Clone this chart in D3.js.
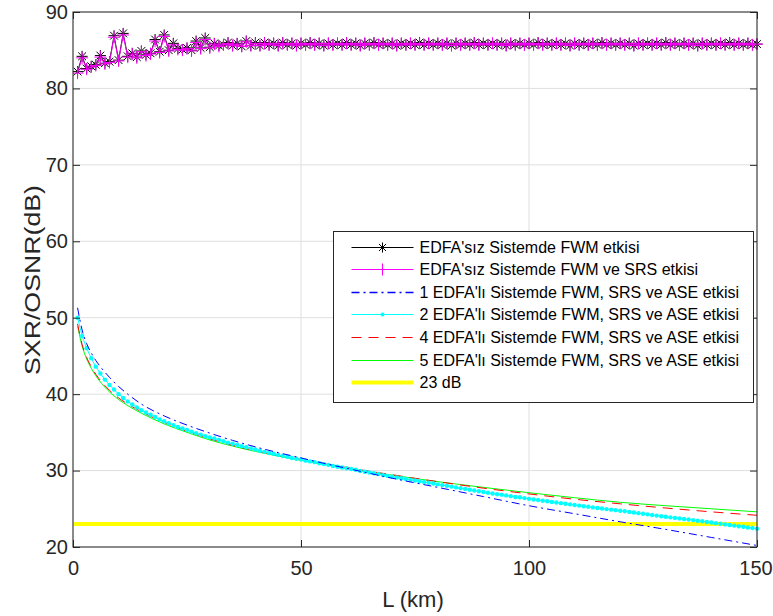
<!DOCTYPE html>
<html>
<head>
<meta charset="utf-8">
<script src="https://cdn.jsdelivr.net/npm/d3@7"></script>
<style>
  html, body { margin: 0; padding: 0; background: #fff; }
  svg { display: block; font-family: "Liberation Sans", Arial, Helvetica, sans-serif; }
</style>
</head>
<body>
<svg id="chart" width="773" height="616"></svg>
<script>
// Fibre length grid (km) for the densely sampled series
const lengthKm = d3.range(1, 151);

// SXR without EDFA, FWM only (dB)
const fwmOnly = [
  82.2, 84.2, 82.6, 82.9, 83.1, 84.3, 83.3, 83.5, 86.9, 83.7,
  87.2, 84.2, 84.6, 84.1, 84.9, 84.4, 84.6, 86.4, 84.8, 87.0,
  85.0, 85.9, 85.2, 85.1, 85.3, 85.0, 86.2, 85.3, 86.6, 85.4,
  85.9, 85.6, 85.7, 86.0, 85.6, 85.9, 85.5, 86.2, 85.6, 86.0,
  85.6, 86.0, 85.7, 85.9, 85.6, 86.0, 85.7, 85.9, 85.6, 85.9,
  85.7, 86.0, 85.7, 85.9, 85.6, 85.9, 85.7, 85.9, 85.7, 86.0,
  85.7, 85.9, 85.6, 85.9, 85.7, 86.0, 85.7, 85.9, 85.7, 85.9,
  85.6, 85.9, 85.7, 85.9, 85.7, 86.0, 85.7, 85.9, 85.7, 85.9,
  85.7, 85.9, 85.6, 85.9, 85.7, 85.9, 85.7, 86.0, 85.7, 85.9,
  85.7, 85.9, 85.7, 85.9, 85.6, 85.9, 85.7, 85.9, 85.7, 85.9,
  85.7, 86.0, 85.7, 85.9, 85.7, 85.9, 85.7, 85.9, 85.6, 85.9,
  85.7, 85.9, 85.7, 85.9, 85.7, 86.0, 85.7, 85.9, 85.7, 85.9,
  85.7, 85.9, 85.6, 85.9, 85.7, 85.9, 85.7, 85.9, 85.7, 86.0,
  85.7, 85.9, 85.7, 85.9, 85.7, 85.9, 85.6, 85.9, 85.7, 85.9,
  85.7, 85.9, 85.7, 86.0, 85.7, 85.9, 85.7, 85.9, 85.7, 85.8
];

// SXR without EDFA, FWM + SRS (dB)
const fwmSrs = [
  82.0, 84.0, 82.5, 82.8, 83.0, 84.1, 83.2, 83.4, 86.7, 83.6,
  87.0, 84.1, 84.5, 84.0, 84.8, 84.3, 84.5, 86.2, 84.7, 86.8,
  84.9, 85.7, 85.1, 85.0, 85.2, 84.9, 86.0, 85.2, 86.4, 85.3,
  85.8, 85.5, 85.7, 85.9, 85.6, 85.8, 85.5, 86.1, 85.6, 85.9,
  85.6, 85.9, 85.7, 85.9, 85.6, 85.9, 85.7, 85.9, 85.6, 85.9,
  85.7, 85.9, 85.7, 85.9, 85.6, 85.9, 85.7, 85.9, 85.7, 85.9,
  85.7, 85.9, 85.6, 85.9, 85.7, 85.9, 85.7, 85.9, 85.7, 85.9,
  85.6, 85.9, 85.7, 85.9, 85.7, 85.9, 85.7, 85.9, 85.7, 85.9,
  85.7, 85.9, 85.6, 85.9, 85.7, 85.9, 85.7, 85.9, 85.7, 85.9,
  85.7, 85.9, 85.7, 85.9, 85.6, 85.9, 85.7, 85.9, 85.7, 85.9,
  85.7, 85.9, 85.7, 85.9, 85.7, 85.9, 85.7, 85.9, 85.6, 85.9,
  85.7, 85.9, 85.7, 85.9, 85.7, 85.9, 85.7, 85.9, 85.7, 85.9,
  85.7, 85.9, 85.6, 85.9, 85.7, 85.9, 85.7, 85.9, 85.7, 85.9,
  85.7, 85.9, 85.7, 85.9, 85.7, 85.9, 85.6, 85.9, 85.7, 85.9,
  85.7, 85.9, 85.7, 85.9, 85.7, 85.9, 85.7, 85.9, 85.7, 85.8
];

// OSNR with 2 EDFAs, FWM + SRS + ASE (dB)
const edfa2 = [
  50.0, 47.6, 46.0, 44.7, 43.6, 42.7, 41.9, 41.2, 40.6, 40.0,
  39.5, 39.05, 38.65, 38.25, 37.9, 37.6, 37.3, 37.0, 36.7, 36.45,
  36.2, 35.95, 35.7, 35.5, 35.3, 35.1, 34.9, 34.7, 34.5, 34.35,
  34.2, 34.0, 33.85, 33.65, 33.5, 33.35, 33.2, 33.05, 32.9, 32.75,
  32.6, 32.45, 32.3, 32.2, 32.05, 31.9, 31.8, 31.65, 31.55, 31.45,
  31.3, 31.2, 31.1, 30.95, 30.85, 30.75, 30.6, 30.5, 30.4, 30.3,
  30.2, 30.1, 29.95, 29.85, 29.75, 29.65, 29.55, 29.4, 29.3, 29.2,
  29.1, 29.0, 28.9, 28.8, 28.7, 28.6, 28.5, 28.4, 28.3, 28.2,
  28.1, 28.0, 27.9, 27.8, 27.7, 27.6, 27.5, 27.4, 27.3, 27.2,
  27.1, 27.0, 26.9, 26.85, 26.75, 26.65, 26.55, 26.5, 26.4, 26.3,
  26.22, 26.14, 26.06, 25.98, 25.9, 25.82, 25.74, 25.66, 25.58, 25.5,
  25.42, 25.34, 25.26, 25.18, 25.1, 25.03, 24.96, 24.89, 24.82, 24.75,
  24.67, 24.59, 24.51, 24.43, 24.35, 24.27, 24.19, 24.11, 24.03, 23.95,
  23.88, 23.81, 23.74, 23.67, 23.6, 23.52, 23.44, 23.36, 23.28, 23.2,
  23.12, 23.04, 22.96, 22.88, 22.8, 22.72, 22.64, 22.56, 22.48, 22.4
];

// Coarser length grid (km) for the smooth EDFA curves
const curveKm = [1, 2, 3, 4, 5, 6, 8, 10, 12, 15, 20, 25, 30, 35, 40, 45, 50, 55, 60, 70, 80, 90, 100, 110, 120, 130, 140, 150];

// OSNR with 1 EDFA (dB)
const edfa1 = [51.3, 48.4, 46.6, 45.4, 44.4, 43.6, 42.2, 41.0, 40.0, 38.7, 37.15, 35.95, 34.9, 33.95, 33.1, 32.35, 31.65, 30.95, 30.3, 29.0, 27.8, 26.6, 25.4, 24.35, 23.3, 22.3, 21.25, 20.2];
// OSNR with 4 EDFAs (dB)
const edfa4 = [49.2, 46.5, 44.8, 43.6, 42.6, 41.8, 40.5, 39.5, 38.7, 37.7, 36.3, 35.15, 34.15, 33.3, 32.6, 32.0, 31.45, 30.9, 30.4, 29.45, 28.55, 27.7, 26.95, 26.25, 25.65, 25.1, 24.6, 24.15];
// OSNR with 5 EDFAs (dB)
const edfa5 = [48.9, 46.3, 44.6, 43.4, 42.4, 41.6, 40.3, 39.3, 38.5, 37.5, 36.1, 35.0, 34.0, 33.2, 32.5, 31.9, 31.35, 30.8, 30.3, 29.4, 28.55, 27.8, 27.1, 26.45, 25.85, 25.4, 25.0, 24.6];

// Threshold level (dB)
const thresholdDb = 23;

const xTicks = [0, 50, 100, 150];
const yTicks = [20, 30, 40, 50, 60, 70, 80, 90];

const legendLabels = [
  "EDFA'sız Sistemde FWM etkisi",
  "EDFA'sız Sistemde FWM ve SRS etkisi",
  "1 EDFA'lı Sistemde  FWM, SRS ve ASE etkisi",
  "2 EDFA'lı Sistemde FWM, SRS ve ASE etkisi",
  "4 EDFA'lı Sistemde FWM, SRS ve ASE etkisi",
  "5 EDFA'lı Sistemde FWM, SRS ve ASE etkisi",
  "23 dB"
];

// ---- layout ----
const svg = d3.select("#chart");
const plot = { left: 73, right: 757, top: 12, bottom: 547 };
const axisColor = "#262626";

const x = d3.scaleLinear().domain([0, 150]).range([plot.left, plot.right]);
const y = d3.scaleLinear().domain([20, 90]).range([plot.bottom, plot.top]);

// grid
const grid = svg.append("g");
grid.selectAll("line.gx").data(xTicks).join("line")
  .attr("x1", d => x(d)).attr("x2", d => x(d))
  .attr("y1", plot.top).attr("y2", plot.bottom)
  .attr("stroke", "#dfdfdf").attr("stroke-width", 1);
grid.selectAll("line.gy").data(yTicks).join("line")
  .attr("y1", d => y(d)).attr("y2", d => y(d))
  .attr("x1", plot.left).attr("x2", plot.right)
  .attr("stroke", "#dfdfdf").attr("stroke-width", 1);

// clip for data
svg.append("clipPath").attr("id", "plotClip").append("rect")
  .attr("x", plot.left).attr("y", plot.top - 8)
  .attr("width", plot.right - plot.left + 6).attr("height", plot.bottom - plot.top + 8);

const data = svg.append("g").attr("clip-path", "url(#plotClip)");

// threshold line
data.append("line")
  .attr("x1", x(0)).attr("x2", x(150))
  .attr("y1", y(thresholdDb)).attr("y2", y(thresholdDb))
  .attr("stroke", "#ffff00").attr("stroke-width", 4);

const lineDense = d3.line().x((d, i) => x(lengthKm[i])).y(d => y(d));
const lineSmooth = d3.line().x((d, i) => x(curveKm[i])).y(d => y(d)).curve(d3.curveMonotoneX);

// smooth EDFA curves
data.append("path").attr("d", lineSmooth(edfa5))
  .attr("fill", "none").attr("stroke", "#00ff00").attr("stroke-width", 1);
data.append("path").attr("d", lineSmooth(edfa4))
  .attr("fill", "none").attr("stroke", "#ff0000").attr("stroke-width", 1)
  .attr("stroke-dasharray", "10,7");
data.append("path").attr("d", lineDense(edfa2))
  .attr("fill", "none").attr("stroke", "#00ffff").attr("stroke-width", 1);
data.append("g").selectAll("circle").data(edfa2).join("circle")
  .attr("cx", (d, i) => x(lengthKm[i])).attr("cy", d => y(d))
  .attr("r", 2.2).attr("fill", "#00ffff");
data.append("path").attr("d", lineSmooth(edfa1))
  .attr("fill", "none").attr("stroke", "#0000ff").attr("stroke-width", 1)
  .attr("stroke-dasharray", "8,4,2,4");

// marker shapes
const starPath = r => {
  const a = r * 0.707;
  return `M0,${-r}V${r}M${-r},0H${r}M${-a},${-a}L${a},${a}M${-a},${a}L${a},${-a}`;
};
const plusPath = r => `M0,${-r}V${r}M${-r},0H${r}`;

// FWM-only series with asterisks
data.append("path").attr("d", lineDense(fwmOnly))
  .attr("fill", "none").attr("stroke", "#000").attr("stroke-width", 1);
data.append("g").selectAll("path").data(fwmOnly).join("path")
  .attr("transform", (d, i) => `translate(${x(lengthKm[i])},${y(d)})`)
  .attr("d", starPath(5.5)).attr("stroke", "#000").attr("stroke-width", 1).attr("fill", "none");

// FWM + SRS series with plus markers
data.append("path").attr("d", lineDense(fwmSrs))
  .attr("fill", "none").attr("stroke", "#ff00ff").attr("stroke-width", 1);
data.append("g").selectAll("path").data(fwmSrs).join("path")
  .attr("transform", (d, i) => `translate(${x(lengthKm[i])},${y(d)})`)
  .attr("d", plusPath(6)).attr("stroke", "#ff00ff").attr("stroke-width", 1).attr("fill", "none");

// axes box with inward ticks on all sides
const axes = svg.append("g");
axes.append("rect")
  .attr("x", plot.left).attr("y", plot.top)
  .attr("width", plot.right - plot.left).attr("height", plot.bottom - plot.top)
  .attr("fill", "none").attr("stroke", axisColor).attr("stroke-width", 1);

const tickLen = 7;
const bottomAxis = d3.axisBottom(x).tickValues(xTicks).tickSize(-tickLen).tickPadding(14).tickFormat(d3.format("d"));
const topAxis = d3.axisTop(x).tickValues(xTicks).tickSize(-tickLen).tickFormat("");
const leftAxis = d3.axisLeft(y).tickValues(yTicks).tickSize(-tickLen).tickPadding(5).tickFormat(d3.format("d"));
const rightAxis = d3.axisRight(y).tickValues(yTicks).tickSize(-tickLen).tickFormat("");

function styleAxis(g) {
  g.select(".domain").remove();
  g.selectAll(".tick line").attr("stroke", axisColor);
  g.selectAll(".tick text").attr("fill", axisColor)
    .style("font-size", "20px")
    .style("font-family", "'Liberation Sans', Arial, Helvetica, sans-serif");
}
axes.append("g").attr("transform", `translate(0,${plot.bottom})`).call(bottomAxis).call(styleAxis)
  .selectAll(".tick text").filter(d => d === 150).attr("dx", "-1.5");
axes.append("g").attr("transform", `translate(0,${plot.top})`).call(topAxis).call(styleAxis);
axes.append("g").attr("transform", `translate(${plot.left},0)`).call(leftAxis).call(styleAxis);
axes.append("g").attr("transform", `translate(${plot.right},0)`).call(rightAxis).call(styleAxis);

// axis titles
svg.append("text")
  .attr("x", 413).attr("y", 607)
  .attr("text-anchor", "middle").attr("fill", axisColor)
  .style("font-size", "22px").text("L (km)");
svg.append("text")
  .attr("transform", `translate(40,280) rotate(-90)`)
  .attr("text-anchor", "middle").attr("fill", axisColor)
  .attr("textLength", 190).attr("lengthAdjust", "spacingAndGlyphs")
  .style("font-size", "22px").text("SXR/OSNR(dB)");

// legend
const legend = svg.append("g");
const lg = { x: 333.5, y: 231.5, w: 420, h: 171, row: 22.6, first: 15 };
legend.append("rect")
  .attr("x", lg.x).attr("y", lg.y).attr("width", lg.w).attr("height", lg.h)
  .attr("fill", "#fff").attr("stroke", axisColor).attr("stroke-width", 1);

const legendStyles = [
  { color: "#000", dash: null, width: 1, marker: "star" },
  { color: "#ff00ff", dash: null, width: 1, marker: "plus" },
  { color: "#0000ff", dash: "8,4,2,4", width: 1.5, marker: null },
  { color: "#00ffff", dash: null, width: 1, marker: "dot" },
  { color: "#ff0000", dash: "10,7", width: 1.2, marker: null },
  { color: "#00ff00", dash: null, width: 1.2, marker: null },
  { color: "#ffff00", dash: null, width: 4, marker: null }
];

legendLabels.forEach((label, i) => {
  const cy = Math.round(lg.y + lg.first + i * lg.row) + 0.5;
  const st = legendStyles[i];
  const g = legend.append("g");
  g.append("line")
    .attr("x1", lg.x + 18).attr("x2", lg.x + 80)
    .attr("y1", cy).attr("y2", cy)
    .attr("stroke", st.color).attr("stroke-width", st.width)
    .attr("stroke-dasharray", st.dash);
  const mx = lg.x + 49;
  if (st.marker === "star") {
    g.append("path").attr("transform", `translate(${mx},${cy})`).attr("d", starPath(5))
      .attr("stroke", st.color).attr("fill", "none");
  } else if (st.marker === "plus") {
    g.append("path").attr("transform", `translate(${mx},${cy})`).attr("d", plusPath(6))
      .attr("stroke", st.color).attr("fill", "none");
  } else if (st.marker === "dot") {
    g.append("circle").attr("cx", mx).attr("cy", cy).attr("r", 2).attr("fill", st.color);
  }
  g.append("text")
    .attr("x", lg.x + 86).attr("y", cy).attr("dy", "0.36em")
    .attr("fill", "#000").style("font-size", "16px").text(label);
});
</script>
</body>
</html>
